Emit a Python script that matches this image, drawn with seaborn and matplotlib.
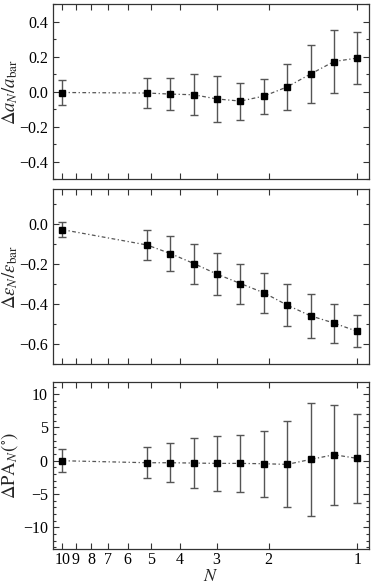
import numpy as np
import pandas as pd
import seaborn as sns
import matplotlib.pyplot as plt
from matplotlib.ticker import FixedLocator, NullLocator, MultipleLocator

# dados
N = [10.0, 5.16, 4.30, 3.58, 2.99, 2.49, 2.07, 1.73, 1.44, 1.20, 1.00]

da = [-0.004, -0.007, -0.013, -0.017, -0.041, -0.053, -0.024, 0.028, 0.102, 0.173, 0.193]
da_err = [0.074, 0.087, 0.093, 0.117, 0.130, 0.106, 0.100, 0.130, 0.167, 0.182, 0.148]

de = [-0.027, -0.104, -0.147, -0.197, -0.250, -0.297, -0.344, -0.405, -0.459, -0.495, -0.537]
de_err = [0.037, 0.077, 0.086, 0.100, 0.106, 0.100, 0.100, 0.107, 0.110, 0.098, 0.080]

dpa = [0.0, -0.3, -0.3, -0.35, -0.4, -0.4, -0.45, -0.55, 0.2, 0.9, 0.35]
dpa_err = [1.7, 2.35, 2.9, 3.8, 4.1, 4.3, 4.95, 6.45, 8.45, 7.5, 6.65]

xticks = [10, 9, 8, 7, 6, 5, 4, 3, 2, 1]

df = pd.DataFrame({'N': N, 'da': da, 'de': de, 'dpa': dpa})

sns.set_theme(style="ticks")
plt.rcParams['font.family'] = ['Liberation Serif', 'DejaVu Serif']
plt.rcParams['mathtext.fontset'] = 'stix'
plt.rcParams['axes.edgecolor'] = '#333333'
plt.rcParams['xtick.color'] = '#333333'
plt.rcParams['ytick.color'] = '#333333'
plt.rcParams['xtick.labelcolor'] = 'black'
plt.rcParams['ytick.labelcolor'] = 'black'

fig = plt.figure(figsize=(3.74, 5.87), dpi=100)
L, R = 0.141, 0.9875
ax1 = fig.add_axes([L, 0.6945, R - L, 0.9927 - 0.6945])
ax2 = fig.add_axes([L, 0.3799, R - L, 0.6775 - 0.3799])
ax3 = fig.add_axes([L, 0.0647, R - L, 0.3487 - 0.0647])

paineis = [
    (ax1, 'da', da_err, (-0.5, 0.5), 0.2, 0.1, r'$\Delta a_N/a_{\rm bar}$'),
    (ax2, 'de', de_err, (-0.7, 0.175), 0.2, 0.1, r'$\Delta \epsilon_N/\epsilon_{\rm bar}$'),
    (ax3, 'dpa', dpa_err, (-13.24, 11.76), 5, 1, r'$\Delta {\rm PA}_N(^{\circ})$'),
]

for ax, col, err, ylim, maj, mnr, label in paineis:
    # linha tracejada ligando os pontos
    sns.lineplot(x='N', y=col, data=df, ax=ax, color='#555555', lw=0.9,
                 linestyle=(0, (3, 2, 1, 2)), sort=False)
    ax.errorbar(df['N'], df[col], yerr=err, fmt='s', ms=4, color='black',
                ecolor='#555555', elinewidth=1.0, capsize=3, capthick=1.0)
    ax.set_xscale('log')
    ax.set_xlim(10.78, 0.911)
    ax.set_ylim(*ylim)
    ax.xaxis.set_major_locator(FixedLocator(xticks))
    ax.xaxis.set_minor_locator(NullLocator())
    ax.yaxis.set_major_locator(MultipleLocator(maj))
    ax.yaxis.set_minor_locator(MultipleLocator(mnr))
    ax.tick_params(which='both', direction='in', top=True, right=True, labelsize=11.5, width=0.8)
    ax.tick_params(which='major', length=4)
    ax.tick_params(which='minor', length=2)
    ax.set_ylabel(label, fontsize=13.5, labelpad=2)
    ax.set_xlabel('')
    for s in ax.spines.values():
        s.set_linewidth(0.9)

ax1.set_yticks([-0.4, -0.2, 0.0, 0.2, 0.4])
ax2.set_yticks([-0.6, -0.4, -0.2, 0.0])
ax1.set_yticklabels(['\u22120.4', '\u22120.2', '0.0', '0.2', '0.4'])
ax2.set_yticklabels(['\u22120.6', '\u22120.4', '\u22120.2', '0.0'])
ax3.set_yticks([-10, -5, 0, 5, 10])
ax3.set_yticklabels(['\u221210', '\u22125', '0', '5', '10'])

ax1.tick_params(labelbottom=False)
ax2.tick_params(labelbottom=False)
ax3.set_xticklabels([str(t) for t in xticks])
ax3.tick_params(axis='x', pad=2)
ax3.set_xlabel(r'$N$', fontsize=13, labelpad=0)

for ax in (ax1, ax2, ax3):
    ax.yaxis.set_label_coords(-0.102, 0.5)

plt.savefig('out.png', dpi=100)
